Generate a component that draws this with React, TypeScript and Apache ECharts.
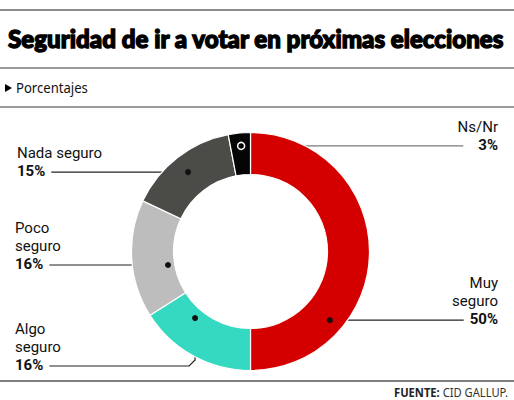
import React, { useEffect, useRef } from "react";
import * as echarts from "echarts";

const titleText = "Seguridad de ir a votar en próximas elecciones";
const subtitleText = "Porcentajes";
const sourceBold = "FUENTE:";
const sourceText = " CID GALLUP.";

const categories = ["Muy seguro", "Algo seguro", "Poco seguro", "Nada seguro", "Ns/Nr"];
const values = [50, 16, 16, 15, 3];
const labelLines = [["Muy", "seguro"], ["Algo", "seguro"], ["Poco", "seguro"], ["Nada seguro"], ["Ns/Nr"]];
const colors = ["#d40000", "#35d8c0", "#bdbdbd", "#4b4b47", "#050505"];

// annotation layout (not data): side, fraction within slice, radius of the dot
const annot = [
  { side: "right", t: 0.727, r: 105, textX: 498 },
  { side: "left", t: 0.691, r: 86.6, textX: 15, bottomY: 366 },
  { side: "left", t: 0.401, r: 83.6, textX: 15 },
  { side: "left", t: 0.493, r: 101, textX: 17 },
  { side: "right", t: 0.53, r: 106, textX: 498, hollow: true },
];

const W = 514;
const H = 400;
const CX = 250.5;
const CY = 251.5;
const R_IN = 77;
const R_OUT = 119;
const LABEL_FONT = "Roboto";
const LABEL_SIZE = 15;
const LS = 18;

function measure(text: string, font: string): number {
  const c = document.createElement("canvas");
  const ctx = c.getContext("2d")!;
  ctx.font = font;
  return ctx.measureText(text).width;
}

export default function App() {
  const ref = useRef<HTMLDivElement>(null);
  useEffect(() => {
    const chart = echarts.init(ref.current!, undefined, { renderer: "svg", width: W, height: H });
    const total = values.reduce((a, b) => a + b, 0);
    const graphics: any[] = [];

    // header rules
    const rule = (y: number, color: string, w: number) =>
      graphics.push({ type: "line", shape: { x1: 0, y1: y, x2: W, y2: y }, style: { stroke: color, lineWidth: w } });
    rule(10, "#8c8c8c", 2);
    rule(68, "#9a9a9a", 2);
    rule(107, "#9a9a9a", 2);
    rule(381, "#555", 1.5);

    const titleFont = "900 25px Lato";
    const tw = measure(titleText, titleFont);
    graphics.push({
      type: "text", x: 8, y: 38, scaleX: 499 / (tw + 1.5),
      style: {
        text: titleText, font: titleFont, fill: "#000", stroke: "#000", lineWidth: 1.4,
        align: "left", verticalAlign: "middle", lineHeight: 26,
      },
    });

    graphics.push({ type: "polygon", shape: { points: [[5, 84], [5, 92], [12, 88]] }, style: { fill: "#000" } });
    const subFont = "14px 'Noto Sans'";
    graphics.push({
      type: "text", x: 16, y: 88, scaleX: 72 / measure(subtitleText, subFont),
      style: { text: subtitleText, font: subFont, fill: "#111", align: "left", verticalAlign: "middle", lineHeight: 16 },
    });

    // source
    const fbFont = "bold 13px 'Noto Sans'";
    const frFont = "13px 'Noto Sans'";
    const wb = measure(sourceBold, fbFont);
    const wr = measure(sourceText, frFont);
    const sc = 114 / (wb + wr);
    graphics.push({
      type: "text", x: 508 - (wb + wr) * sc, y: 392, scaleX: sc,
      style: { text: sourceBold, font: fbFont, fill: "#222", align: "left", verticalAlign: "middle", lineHeight: 13 },
    });
    graphics.push({
      type: "text", x: 508 - wr * sc, y: 392, scaleX: sc,
      style: { text: sourceText, font: frFont, fill: "#333", align: "left", verticalAlign: "middle", lineHeight: 13 },
    });

    // leader lines, dots and labels computed from data angles
    let acc = 0;
    values.forEach((v, i) => {
      const a0 = (acc / total) * 360;
      const a1 = ((acc + v) / total) * 360;
      acc += v;
      const an = annot[i];
      const ang = ((a0 + an.t * (a1 - a0)) * Math.PI) / 180;
      const dx = CX + an.r * Math.sin(ang);
      const dy = CY - an.r * Math.cos(ang);
      const pct = `${v}%`;
      const pctFont = `bold ${LABEL_SIZE}px '${LABEL_FONT}'`;
      const pw = measure(pct, pctFont);
      const lineY = an.bottomY ?? dy;
      const pctY = lineY - 1;
      const isLeft = an.side === "left";
      const lineColor = an.hollow ? "#7a7a7a" : "#222";
      let textEdge: number;
      if (isLeft) {
        textEdge = an.textX + pw + 6;
      } else {
        textEdge = an.textX - pw - (an.hollow ? 15 : 6);
      }
      if (an.bottomY) {
        graphics.push({
          type: "polyline",
          shape: { points: [[textEdge, lineY], [dx - 6, lineY], [dx, lineY - 6], [dx, dy]] },
          style: { stroke: lineColor, lineWidth: 1.2, fill: null },
        });
      } else {
        graphics.push({
          type: "line",
          shape: { x1: textEdge, y1: lineY, x2: dx, y2: dy },
          style: { stroke: lineColor, lineWidth: 1.2 },
        });
      }
      graphics.push({
        type: "circle",
        shape: { cx: dx, cy: dy, r: an.hollow ? 3.5 : 3 },
        style: an.hollow ? { fill: "#000", stroke: "#fff", lineWidth: 1.5 } : { fill: "#111" },
        z: 10,
      });
      const names = labelLines[i];
      const txt = names.map((n) => `{n|${n}}`).join("\n") + `\n{p|${pct}}`;
      graphics.push({
        type: "text", x: an.textX, y: pctY + LS / 2,
        style: {
          text: txt,
          align: isLeft ? "left" : "right",
          verticalAlign: "bottom",
          fill: "#111",
          rich: {
            n: { fontFamily: LABEL_FONT, fontSize: LABEL_SIZE, fontWeight: "normal", lineHeight: LS, fill: "#111" },
            p: { fontFamily: LABEL_FONT, fontSize: LABEL_SIZE, fontWeight: "bold", lineHeight: LS, fill: "#111" },
          },
        },
      });
    });

    chart.setOption({
      animation: false,
      backgroundColor: "#fff",
      series: [
        {
          type: "pie",
          center: [CX, CY],
          radius: [R_IN, R_OUT],
          startAngle: 90,
          clockwise: true,
          label: { show: false },
          labelLine: { show: false },
          emphasis: { disabled: true },
          itemStyle: { borderColor: "#fff", borderWidth: 1.2 },
          data: categories.map((c, i) => ({ name: c, value: values[i], itemStyle: { color: colors[i] } })),
        },
      ],
      graphic: { elements: graphics },
    });
    return () => chart.dispose();
  }, []);
  return <div ref={ref} style={{ position: "fixed", left: 0, top: 0, width: W, height: H }} />;
}
